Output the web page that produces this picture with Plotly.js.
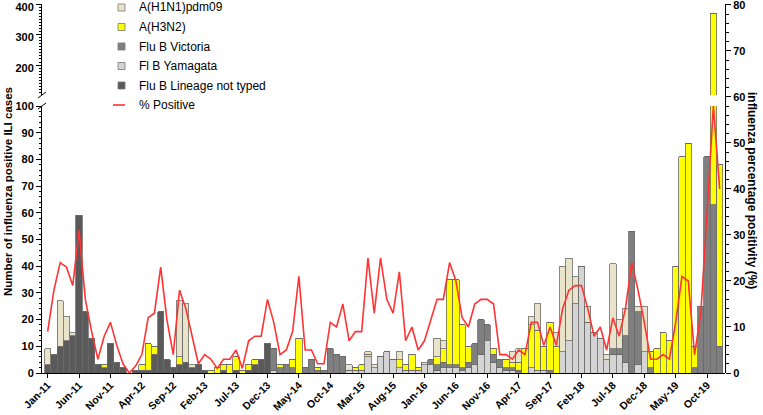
<!DOCTYPE html>
<html><head><meta charset="utf-8">
<script src="https://cdn.plot.ly/plotly-3.0.1.min.js"></script>
<style>html,body{margin:0;padding:0;background:#fff}#chart{width:763px;height:415px}</style>
</head><body><div id="chart"></div>
<script>
// Month categories Jan-11 .. Dec-19
const monthNames = ['Jan','Feb','Mar','Apr','May','Jun','Jul','Aug','Sep','Oct','Nov','Dec'];
const years = ['11','12','13','14','15','16','17','18','19'];
const months = [];
years.forEach(y => monthNames.forEach(m => months.push(m + '-' + y)));

const tickLabels = ['Jan-11','Jun-11','Nov-11','Apr-12','Sep-12','Feb-13','Jul-13','Dec-13','May-14','Oct-14',
  'Mar-15','Aug-15','Jan-16','Jun-16','Nov-16','Apr-17','Sep-17','Feb-18','Jul-18','Dec-18','May-19','Oct-19'];

const h1n1 = [6,0,17,9,1,0,0,0,0,0, 0,0,0,0,0,0,0,0,0,0, 0,21,22,1,0,0,0,0,0,0, 0,0,0,0,0,0,0,0,0,0,
  0,0,0,0,0,0,0,0,2,0, 0,1,1,0,0,0,3,0,0,0, 1,0,7,3,0,0,0,0,0,0, 0,0,0,0,4,5,0,3,10,0,
  0,5,32,31,10,0,6,0,0,2, 32,11,10,0,2,17,0,0,0,0, 0,0,0,0,0,0,0,0];
const h3n2 = [0,0,0,0,0,0,0,0,0,1, 0,0,0,0,0,2,10,3,0,0, 0,3,0,0,0,0,1,2,2,3, 5,1,2,2,0,0,0,1,0,3,
  13,0,0,1,0,0,0,0,0,1, 2,1,0,0,0,0,3,2,6,1, 0,0,3,5,32,32,16,6,0,0, 0,2,0,3,2,3,9,16,15,9,
  18,10,0,0,0,0,0,0,0,0, 0,0,0,0,0,0,6,9,15,12, 40,81,86,8,0,0,307,68];
const bVictoria = [0,0,0,0,0,0,0,0,0,0, 0,0,0,0,0,0,0,0,0,0, 0,0,0,0,0,0,0,0,0,0, 0,0,0,0,0,0,8,2,3,2,
  0,2,5,1,1,9,7,6,0,0, 0,0,0,0,0,0,0,0,0,0, 0,2,2,2,1,1,1,2,8,13, 6,3,3,1,1,1,0,0,0,0,
  1,0,0,0,0,0,0,0,0,0, 2,2,10,53,20,0,2,0,0,0, 0,0,0,2,25,81,63,10];
const bYamagata = [0,0,0,0,0,0,0,0,0,0, 0,0,0,0,0,0,0,0,0,0, 0,0,0,0,0,0,0,0,0,0, 0,0,0,0,0,0,1,0,0,0,
  0,0,0,0,0,0,0,0,1,1, 1,6,2,6,8,5,2,1,1,1, 3,3,1,2,2,2,1,2,3,7, 12,4,2,1,1,0,0,2,1,1,
  0,0,8,12,26,40,19,15,13,5, 7,7,4,0,3,8,0,0,0,0, 0,0,0,0,0,0,0,0];
const bNotTyped = [3,7,10,12,14,59,23,13,3,2, 11,4,2,0,1,1,1,7,23,5, 2,3,4,2,3,1,0,0,1,0, 1,0,1,3,5,11,0,0,0,0,
  0,0,0,0,0,0,0,0,0,0, 0,0,0,0,0,0,0,0,0,0, 0,0,0,0,0,0,0,0,0,0, 0,0,0,0,0,0,0,0,0,0,
  0,0,0,0,0,0,0,0,0,0, 0,0,0,0,0,0,0,0,0,0, 0,0,0,0,0,0,0,0];
const pctPositive = [9,18,24,23,19,31,16,9,3,8, 11,6,2,0,1.5,4,12,13,23,11.5, 4,18,14,8,2,4,3,1,3,3,
  5,1,7,8,8,16,11,4,5,9, 21,5,5,2,2,11,10,15,7,9, 9,25,13,25,16,13,22,7,10,5,
  7,11.5,16,16,24,20,12,10,15,16, 16,15,4,4,3,5,4,11,11,6, 10,6,14,18,19,19,14,8,10,5,
  12,8,14,24,18,11,3,3,4,3, 11,21,20,4,13,35,58,40];

const F = 'Arial, "Liberation Sans", sans-serif';
const W = 763, H = 415, L = 42, R = 38, T = 4, B = 42;
const plotW = W - L - R, plotH = H - T - B;
const px = v => (v - L) / plotW;          // pixel x -> paper
const py = v => (373 - v) / plotH;        // pixel y -> paper
const lowerTop = py(106);
const upperBot = py(95);

const series = [
  {name: 'Fl B Yamagata', y: bYamagata, color: '#d4d4d4'},
  {name: 'Flu B Lineage not typed', y: bNotTyped, color: '#5a5a5a'},
  {name: 'Flu B Victoria', y: bVictoria, color: '#7f7f7f'},
  {name: 'A(H3N2)', y: h3n2, color: '#ffff00'},
  {name: 'A(H1N1)pdm09', y: h1n1, color: '#e9e3c9'}
];
const legendOrder = ['A(H1N1)pdm09', 'A(H3N2)', 'Flu B Victoria', 'Fl B Yamagata', 'Flu B Lineage not typed'];
const lineColor = '#ff3333';
const traces = [];
['y', 'y3'].forEach(ax => series.forEach(s => {
  traces.push({type: 'bar', x: months, y: s.y, name: s.name, showlegend: false,
    marker: {color: s.color, line: {color: '#6a6a6a', width: 0.8}}, xaxis: 'x', yaxis: ax, hoverinfo: 'skip'});
}));
traces.push({type: 'scatter', mode: 'lines', x: months, y: pctPositive, name: '% Positive', showlegend: false,
  line: {color: lineColor, width: 1.6}, xaxis: 'x', yaxis: 'y2'});

const tf = {family: F, size: 11, color: '#000', weight: 'bold'};
const dx = 4 / plotW, dy = 3 / plotH;
function brk(xp, yp) {
  return {type: 'line', xref: 'paper', yref: 'paper', x0: xp - dx, x1: xp + dx, y0: yp - dy, y1: yp + dy,
    line: {color: '#000', width: 1}};
}
const shapes = [brk(0, upperBot), brk(0, lowerTop)];
const annotations = [
  {text: 'Number of influenza positive ILI cases', xref: 'paper', yref: 'paper', x: px(8), y: py(192),
    textangle: -90, showarrow: false, xanchor: 'center', yanchor: 'middle', font: {family: F, size: 11.5, weight: 'bold', color: '#000'}},
  {text: 'influenza percentage positivity (%)', xref: 'paper', yref: 'paper', x: px(752), y: py(190),
    textangle: 90, showarrow: false, xanchor: 'center', yanchor: 'middle', font: {family: F, size: 12, weight: 'bold', color: '#000'}}
];
// custom legend
const rowY = [7.5, 27, 46.5, 66, 85.5, 105];
legendOrder.forEach((nm, i) => {
  const s = series.find(t => t.name === nm);
  shapes.push({type: 'rect', xref: 'paper', yref: 'paper', x0: px(118), x1: px(125), y0: py(rowY[i] + 3.5), y1: py(rowY[i] - 3.5),
    fillcolor: s.color, line: {color: '#777', width: 0.8}});
  annotations.push({text: nm, xref: 'paper', yref: 'paper', x: px(137), y: py(rowY[i]), xanchor: 'left', yanchor: 'middle',
    showarrow: false, font: {family: F, size: 12, color: '#000'}});
});
shapes.push({type: 'line', xref: 'paper', yref: 'paper', x0: px(113), x1: px(125), y0: py(rowY[5]), y1: py(rowY[5]),
  line: {color: lineColor, width: 1.6}});
annotations.push({text: '% Positive', xref: 'paper', yref: 'paper', x: px(137), y: py(rowY[5]), xanchor: 'left', yanchor: 'middle',
  showarrow: false, font: {family: F, size: 12, color: '#000'}});

const common = {ticks: 'outside', ticklen: 5, tickcolor: '#000', showline: true, linecolor: '#000', linewidth: 1,
  showgrid: false, zeroline: false, tickfont: tf, ticklabeloverflow: 'allow'};
const layout = {
  width: W, height: H, margin: {l: L, r: R, t: T, b: B},
  paper_bgcolor: '#fff', plot_bgcolor: 'rgba(0,0,0,0)',
  barmode: 'stack', bargap: 0, showlegend: false,
  font: {family: F, size: 12, color: '#000'},
  xaxis: Object.assign({}, common, {type: 'category', range: [-0.9, 107.85], tickmode: 'array', tickvals: tickLabels, ticktext: tickLabels,
    tickangle: -45, ticklen: 4, tickfont: {family: F, size: 10.5, color: '#000', weight: 'bold'},
    ticklabelstandoff: -3, anchor: 'y'}),
  yaxis: Object.assign({}, common, {domain: [0, lowerTop], range: [0, 100], dtick: 10, tick0: 0,
    minor: {dtick: 2, ticklen: 2.5, ticks: 'outside', tickcolor: '#000', showgrid: false}, anchor: 'x'}),
  yaxis3: Object.assign({}, common, {domain: [upperBot, 1], range: [101.6, 400.6], dtick: 100, tick0: 0, ticklabelshift: 3,
    minor: {dtick: 10, ticklen: 2.5, ticks: 'outside', tickcolor: '#000', showgrid: false}, anchor: 'x'}),
  yaxis2: Object.assign({}, common, {domain: [0, 1], range: [0, 80.2], side: 'right', anchor: 'x', dtick: 10, tick0: 0,
    minor: {dtick: 2, ticklen: 2.5, ticks: 'outside', tickcolor: '#000', showgrid: false}}),
  shapes: shapes,
  annotations: annotations
};
Plotly.newPlot('chart', traces, layout, {displayModeBar: false, staticPlot: true});
</script>
</body></html>
